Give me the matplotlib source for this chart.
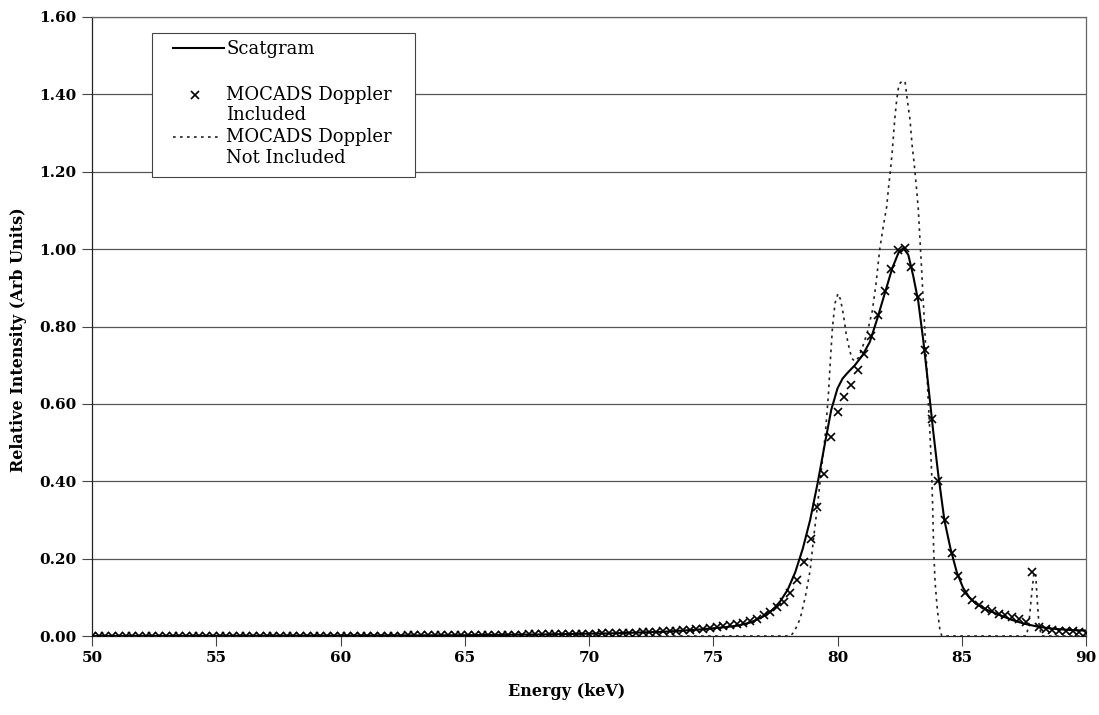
import numpy as np
import matplotlib
matplotlib.use("Agg")
import matplotlib.pyplot as plt
from matplotlib.patches import Rectangle
from matplotlib.lines import Line2D

plt.rcParams["font.family"] = ["DejaVu Serif"]

# ---- Scatgram (solid line) ----
scat_e = [50, 55, 60, 65, 68, 70, 71, 72, 73, 74, 74.5, 75, 75.5, 76, 76.5,
          77, 77.4, 77.7, 78.0, 78.3, 78.6, 78.9, 79.2, 79.5, 79.75, 80.0,
          80.2, 80.4, 80.7, 81.0, 81.3, 81.6, 81.9, 82.2, 82.45, 82.65, 82.85,
          83.05, 83.25, 83.45, 83.65, 83.85, 84.05, 84.3, 84.55, 84.8, 85.05,
          85.3, 85.6, 86.0, 86.5, 87.0, 87.5, 88.0, 88.5, 89.0, 89.5, 90.0]
scat_i = [0.000, 0.0005, 0.001, 0.002, 0.004, 0.006, 0.007, 0.009, 0.011,
          0.015, 0.017, 0.020, 0.023, 0.027, 0.035, 0.050, 0.068, 0.090,
          0.120, 0.165, 0.225, 0.300, 0.395, 0.500, 0.585, 0.640, 0.665,
          0.680, 0.700, 0.725, 0.760, 0.820, 0.885, 0.950, 0.990, 1.003,
          0.985, 0.930, 0.865, 0.765, 0.650, 0.530, 0.420, 0.300, 0.225,
          0.165, 0.125, 0.100, 0.082, 0.068, 0.055, 0.042, 0.032, 0.025,
          0.020, 0.017, 0.015, 0.014]

# ---- MOCADS, Doppler included (x markers), one per channel ----
mocads_e = np.linspace(50, 90, 149)
mocads_i = ([0.000] * 19 + [0.001] * 28 + [0.002] * 9 +
            [0.002, 0.002, 0.003, 0.003, 0.003, 0.003, 0.003, 0.003, 0.003,
             0.004, 0.004, 0.004, 0.004, 0.004, 0.005, 0.005, 0.005, 0.005] +
            [0.006, 0.006, 0.007, 0.007, 0.008, 0.008, 0.009, 0.009, 0.010,
             0.011, 0.011, 0.012, 0.013, 0.014, 0.015, 0.016, 0.018, 0.019,
             0.021, 0.023, 0.025, 0.028, 0.031, 0.034, 0.038, 0.045, 0.054,
             0.063, 0.074, 0.089, 0.110, 0.145, 0.190, 0.250, 0.333, 0.420,
             0.515, 0.580, 0.617, 0.648, 0.688, 0.728, 0.775, 0.830, 0.893,
             0.948, 0.998, 1.003, 0.955, 0.875, 0.740, 0.560, 0.400, 0.300,
             0.215, 0.155, 0.112, 0.092, 0.080, 0.071, 0.064, 0.058, 0.053,
             0.048, 0.043, 0.036, 0.165, 0.022, 0.019, 0.016, 0.014, 0.013,
             0.012, 0.011, 0.008])

# ---- MOCADS, Doppler not included (dotted) ----
nodop_e = [50, 78.1, 78.25, 78.5, 78.7, 78.9, 79.05, 79.2, 79.35, 79.5, 79.63,
           79.72, 79.8, 79.9, 80.02, 80.12, 80.24, 80.35, 80.45, 80.57, 80.7,
           80.85, 81.0, 81.2, 81.4, 81.55, 81.7, 81.85, 81.98, 82.05, 82.13,
           82.2, 82.3, 82.38, 82.47, 82.6, 82.72, 82.8, 82.92, 83.0, 83.08,
           83.18, 83.25, 83.32, 83.38, 83.45, 83.52, 83.59, 83.65, 83.72,
           83.79, 83.83, 83.87, 83.93, 84.02, 84.12, 84.2, 87.6, 87.7, 87.8,
           87.9, 87.97, 88.03, 88.1, 88.2, 90]
nodop_i = [0, 0, 0.01, 0.045, 0.10, 0.17, 0.26, 0.34, 0.43, 0.515, 0.62,
           0.72, 0.80, 0.86, 0.885, 0.87, 0.83, 0.78, 0.75, 0.718, 0.71,
           0.72, 0.745, 0.785, 0.84, 0.91, 1.00, 1.062, 1.11, 1.157, 1.204,
           1.25, 1.333, 1.385, 1.425, 1.435, 1.432, 1.39, 1.333, 1.27, 1.225,
           1.157, 1.105, 1.023, 0.954, 0.868, 0.783, 0.696, 0.61, 0.524,
           0.42, 0.334, 0.22, 0.136, 0.067, 0.016, 0, 0, 0.03, 0.10,
           0.16, 0.165, 0.10, 0.035, 0, 0]

x_ticks = [50, 55, 60, 65, 70, 75, 80, 85, 90]
y_ticks = [0.0, 0.2, 0.4, 0.6, 0.8, 1.0, 1.2, 1.4, 1.6]

DOTS = (0, (1.6, 2.6))

W, H = 1099, 715
fig = plt.figure(figsize=(W / 100, H / 100), dpi=100)
ax = fig.add_axes([92 / W, 1 - 636 / H, (1086 - 92) / W, (636 - 17) / H])

for y in y_ticks[1:]:
    ax.axhline(y, color="#555555", lw=0.9, zorder=1)

ax.plot(nodop_e, nodop_i, color="#222222", lw=1.2, ls=DOTS, zorder=2)
ax.plot(scat_e, scat_i, color="black", lw=1.5, zorder=3)
ax.plot(mocads_e, mocads_i, ls="none", marker="x", ms=6, mew=1.2,
        color="black", zorder=4)

ax.set_xlim(50, 90)
ax.set_ylim(0, 1.6)
ax.set_xticks(x_ticks)
ax.set_yticks(y_ticks)
ax.set_xticklabels([str(t) for t in x_ticks], fontsize=11, fontweight="bold")
ax.set_yticklabels([f"{t:.2f}" for t in y_ticks], fontsize=11, fontweight="bold")
ax.tick_params(direction="out", length=7, width=0.8, color="#444444", pad=4)
for s in ax.spines.values():
    s.set_color("#666666")
    s.set_linewidth(0.9)
ax.spines["left"].set_color("#222222")
ax.spines["bottom"].set_color("#222222")

ax.set_xlabel("Energy (keV)", fontsize=11.5, fontweight="bold", va="center")
ax.set_ylabel("Relative Intensity (Arb Units)", fontsize=11.5,
              fontweight="bold", va="center")
ax.xaxis.set_label_coords((567 - 92) / 994, -(692 - 636) / 619)
ax.yaxis.set_label_coords((19 - 92) / 994, (636 - 340) / 619)

# hand-placed legend box (pixel positions of the reference)
def fx(px):
    return px / W

def fy(py):
    return 1 - py / H

fig.patches.append(Rectangle((fx(152), fy(177)), fx(415) - fx(152),
                             fy(33) - fy(177), transform=fig.transFigure,
                             facecolor="white", edgecolor="#444444",
                             lw=0.8, zorder=5))
fig.lines.append(Line2D([fx(173), fx(224)], [fy(48), fy(48)],
                        transform=fig.transFigure, color="black", lw=1.5,
                        zorder=6))
fig.lines.append(Line2D([fx(195)], [fy(95)], transform=fig.transFigure,
                        ls="none", marker="x", ms=6, mew=1.2, color="black",
                        zorder=6))
fig.lines.append(Line2D([fx(173), fx(218)], [fy(137), fy(137)],
                        transform=fig.transFigure, color="#222222", lw=1.2,
                        ls=DOTS, zorder=6))
leg_lines = [("Scatgram", 54), ("MOCADS Doppler", 100), ("Included", 120),
             ("MOCADS Doppler", 142), ("Not Included", 163)]
for txt, base in leg_lines:
    fig.text(fx(226), fy(base), txt, fontsize=13, va="baseline", ha="left",
             zorder=6)

fig.savefig("out.png", dpi=100)
